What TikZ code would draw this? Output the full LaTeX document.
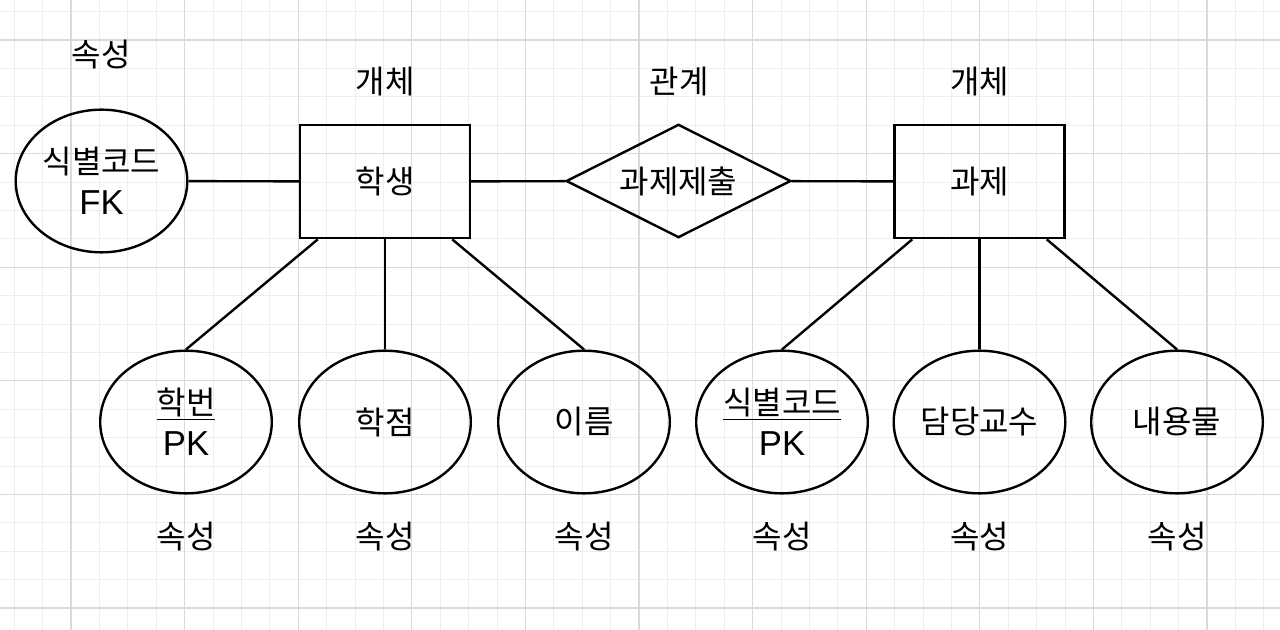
\documentclass[tikz,border=0pt]{standalone}
\usepackage{fontspec}
\setmainfont{Liberation Sans}
\newfontfamily\krfont{Noto Sans CJK KR}
\usetikzlibrary{shapes.geometric,calc}
\definecolor{gridminor}{HTML}{EEEEEE}
\definecolor{gridmajor}{HTML}{DADADA}
\newcommand{\pk}[1]{{\fontsize{26pt}{31pt}\rmfamily #1}}

\begin{document}
\begin{tikzpicture}[
                x=0.75pt, y=-0.75pt,
                font=\fontsize{24pt}{31pt}\krfont,
                line width=1.8pt,
                attr/.style={ellipse, draw, minimum width=128.7pt, minimum height=107pt, inner sep=0pt, align=center},
                entity/.style={rectangle, draw, minimum width=127.5pt, minimum height=85pt, inner sep=0pt},
                rel/.style={diamond, draw, shape aspect=2, minimum width=168.5pt, minimum height=85pt, inner sep=0pt},
                lbl/.style={inner sep=0pt},
                every edge/.style={draw, line width=1.8pt}
                ]
            \useasboundingbox (0,0) rectangle (1280,630);
            % Grid
            \fill[white] (0,0) rectangle (1280,630);
            \foreach \k in {0,...,44} \draw[gridminor, line width=0.8pt] (14.3+28.4*\k,0) -- (14.3+28.4*\k,630);
            \foreach \k in {0,...,21} \draw[gridminor, line width=0.8pt] (0,11.7+28.4*\k) -- (1280,11.7+28.4*\k);
            \foreach \k in {0,...,10} \draw[gridmajor, line width=0.8pt] (71+113.6*\k,0) -- (71+113.6*\k,630);
            \foreach \k in {0,...,5} \draw[gridmajor, line width=0.8pt] (0,40+113.6*\k) -- (1280,40+113.6*\k);

            % Nodes
            \node[attr] (fk) at (101.5,181) {식별코드\\\pk{FK}};
            \node[entity] (stu) at (385,181.5) {학생};
            \node[rel] (sub) at (678.5,181) {과제제출};
            \node[entity] (task) at (979.5,181.5) {과제};

            \node[attr] (sid) at (186,422) {\underline{학번}\\\pk{PK}};
            \node[attr] (grade) at (385,422) {학점};
            \node[attr] (name) at (584,422) {이름};
            \node[attr] (tid) at (782,422) {\underline{식별코드}\\\pk{PK}};
            \node[attr] (prof) at (979.5,422) {담당교수};
            \node[attr] (cont) at (1177,422) {내용물};

            % Labels
            \node[lbl] (l0) at (101,55) {속성};
            \node[lbl] (l1) at (385,82) {개체};
            \node[lbl] (l2) at (679,82) {관계};
            \node[lbl] (l3) at (979.5,82) {개체};
            \foreach \n in {sid,grade,name,tid,prof,cont}
                \node[lbl] (l-\n) at ($(\n)+(0,115)$) {속성};

            % Edges
            \path
            (fk) edge (stu)
            (stu) edge (sub)
            (sub) edge (task)
            ($(stu.south west)!0.11!(stu.south east)$) edge (sid.north)
            (stu.south) edge (grade.north)
            ($(stu.south west)!0.89!(stu.south east)$) edge (name.north)
            ($(task.south west)!0.11!(task.south east)$) edge (tid.north)
            (task.south) edge (prof.north)
            ($(task.south west)!0.89!(task.south east)$) edge (cont.north);

            \end{tikzpicture}
\end{document}
